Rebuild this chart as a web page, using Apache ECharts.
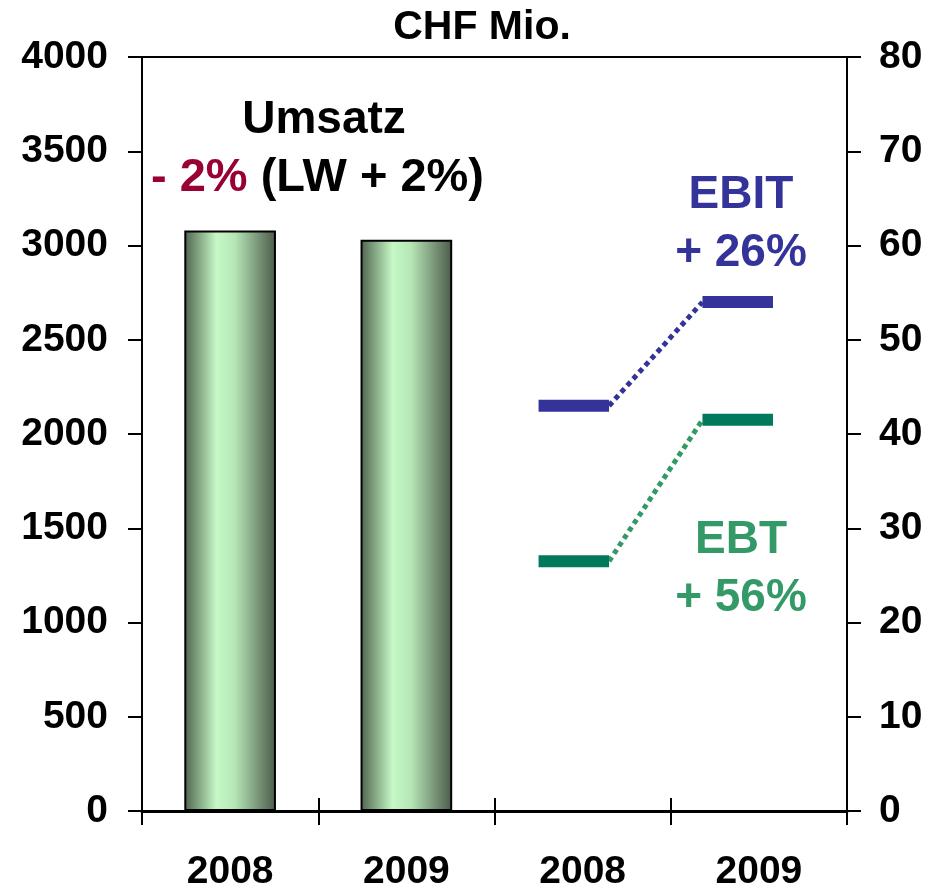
<!DOCTYPE html>
<html>
<head>
<meta charset="utf-8">
<script src="https://cdn.jsdelivr.net/npm/echarts@6/dist/echarts.min.js"></script>
<style>
  html, body { margin: 0; padding: 0; background: #fff; }
  #chart { width: 934px; height: 887px; }
</style>
</head>
<body>
<div id="chart"></div>
<script>
// data
const categories = ['2008', '2009', '2008', '2009'];
const umsatz = [3080, 3030, null, null];   // left axis, CHF Mio.
const ebit = [null, null, 43.0, 54.0];      // right axis
const ebt = [null, null, 26.5, 41.5];       // right axis
const leftTicks = { min: 0, max: 4000, interval: 500 };
const rightTicks = { min: 0, max: 80, interval: 10 };

// where each dash sits inside its category band (style only)
const dashShift = [0, 0, -0.05, -0.12];

const font = 'Arial, "Liberation Sans", sans-serif';

// step marks: a thick dash per year plus a dotted link between dash ends
function stepRenderer(values, dashColor, linkColor) {
  return function (params, api) {
    const i = api.value(0);
    const v = api.value(1);
    const band = api.size([1, 0])[0];
    const half = band * 0.2;
    const pt = api.coord([i, v]);
    pt[0] += dashShift[i] * band;
    const children = [{
      type: 'rect',
      shape: { x: pt[0] - half, y: pt[1] - 6, width: half * 2, height: 12 },
      style: { fill: dashColor },
      z2: 2
    }];
    const prevIdx = i - 1;
    if (prevIdx >= 0 && values[prevIdx] != null) {
      const prev = api.coord([prevIdx, values[prevIdx]]);
      prev[0] += dashShift[prevIdx] * band;
      children.push({
        type: 'line',
        shape: { x1: prev[0] + half, y1: prev[1], x2: pt[0] - half, y2: pt[1] },
        style: { stroke: linkColor, lineWidth: 5, lineDash: [5, 4] },
        z2: 1
      });
    }
    return { type: 'group', children: children };
  };
}

function toPoints(values) {
  const out = [];
  values.forEach((v, i) => { if (v != null) out.push([i, v]); });
  return out;
}

const chart = echarts.init(document.getElementById('chart'));

const labelStyle = { color: '#000', fontSize: 39, fontWeight: 'bold', fontFamily: font };

const option = {
  animation: false,
  backgroundColor: '#fff',
  grid: {
    left: 142, right: 87, top: 57, bottom: 76,
    containLabel: false,
    outerBoundsMode: 'none',
    show: true, borderColor: '#000', borderWidth: 2, backgroundColor: 'transparent'
  },
  xAxis: [
    {
      type: 'category',
      data: categories,
      position: 'bottom',
      axisLine: { lineStyle: { color: '#000', width: 3 } },
      axisTick: { show: true, length: 14, lineStyle: { color: '#000', width: 2 } },
      axisLabel: Object.assign({ margin: 42 }, labelStyle)
    },
    {
      type: 'category',
      data: categories,
      position: 'bottom',
      axisLine: { show: false },
      axisTick: { show: true, inside: true, length: 13, lineStyle: { color: '#000', width: 2 } },
      axisLabel: { show: false }
    }
  ],
  yAxis: [
    {
      type: 'value',
      position: 'left',
      min: leftTicks.min, max: leftTicks.max, interval: leftTicks.interval,
      axisLine: { show: true, lineStyle: { color: '#000', width: 2 } },
      axisTick: { show: true, length: 14, lineStyle: { color: '#000', width: 2 } },
      axisLabel: Object.assign({ margin: 34, formatter: v => String(v) }, labelStyle),
      splitLine: { show: false }
    },
    {
      type: 'value',
      position: 'right',
      min: rightTicks.min, max: rightTicks.max, interval: rightTicks.interval,
      axisLine: { show: true, lineStyle: { color: '#000', width: 2 } },
      axisTick: { show: true, length: 14, lineStyle: { color: '#000', width: 2 } },
      axisLabel: Object.assign({ margin: 32, formatter: v => String(v) }, labelStyle),
      splitLine: { show: false }
    }
  ],
  series: [
    {
      name: 'Umsatz',
      type: 'bar',
      xAxisIndex: 0,
      yAxisIndex: 0,
      data: umsatz,
      barWidth: '52%',
      itemStyle: {
        borderColor: '#000',
        borderWidth: 2,
        color: new echarts.graphic.LinearGradient(0, 0, 1, 0, [
          { offset: 0, color: '#4d634d' },
          { offset: 0.35, color: '#c6f8c6' },
          { offset: 0.55, color: '#b6e6b6' },
          { offset: 1, color: '#4a5a4a' }
        ])
      }
    },
    {
      name: 'EBIT',
      type: 'custom',
      xAxisIndex: 0,
      yAxisIndex: 1,
      data: toPoints(ebit),
      renderItem: stepRenderer(ebit, '#333399', '#333399')
    },
    {
      name: 'EBT',
      type: 'custom',
      xAxisIndex: 0,
      yAxisIndex: 1,
      data: toPoints(ebt),
      renderItem: stepRenderer(ebt, '#007a5a', '#339966')
    }
  ],
  graphic: [
    {
      type: 'text', x: 482, y: 28,
      style: { text: 'CHF Mio.', font: 'bold 41px ' + font, fill: '#000', align: 'center', verticalAlign: 'middle' }
    },
    {
      type: 'text', x: 324, y: 120,
      style: { text: 'Umsatz', font: 'bold 46px ' + font, fill: '#000', align: 'center', verticalAlign: 'middle' }
    },
    {
      type: 'text', x: 151, y: 178,
      style: {
        text: '{r|- 2% }{k|(LW + 2%)}',
        verticalAlign: 'middle',
        rich: {
          r: { font: 'bold 47px ' + font, fill: '#990033' },
          k: { font: 'bold 47px ' + font, fill: '#000' }
        }
      }
    },
    {
      type: 'text', x: 741, y: 195,
      style: { text: 'EBIT', font: 'bold 46px ' + font, fill: '#333399', align: 'center', verticalAlign: 'middle' }
    },
    {
      type: 'text', x: 741, y: 253,
      style: { text: '+ 26%', font: 'bold 46px ' + font, fill: '#333399', align: 'center', verticalAlign: 'middle' }
    },
    {
      type: 'text', x: 741, y: 540,
      style: { text: 'EBT', font: 'bold 46px ' + font, fill: '#339966', align: 'center', verticalAlign: 'middle' }
    },
    {
      type: 'text', x: 741, y: 598,
      style: { text: '+ 56%', font: 'bold 46px ' + font, fill: '#339966', align: 'center', verticalAlign: 'middle' }
    }
  ]
};

chart.setOption(option);
</script>
</body>
</html>
